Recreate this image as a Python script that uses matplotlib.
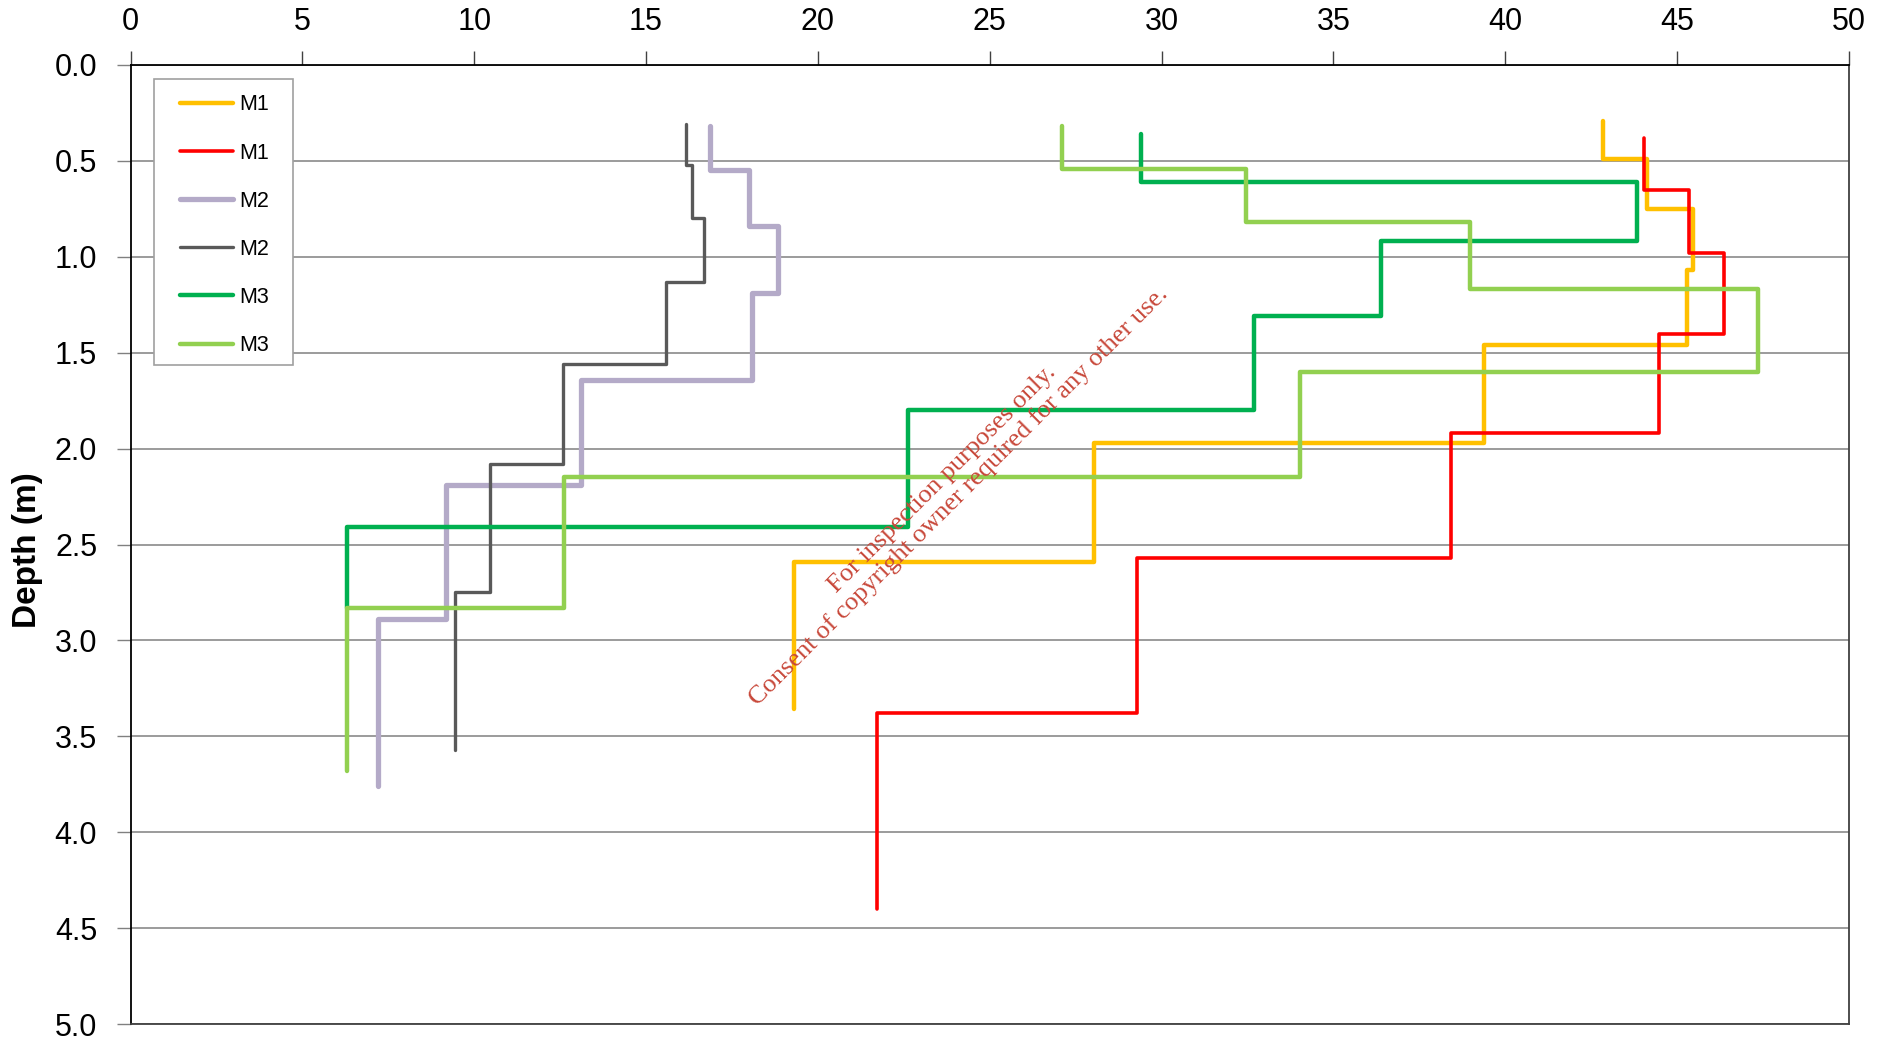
import numpy as np
import matplotlib
matplotlib.use("Agg")
import matplotlib.pyplot as plt
from matplotlib.patches import Rectangle

# ---- data: step profiles (layer boundaries in depth, value per layer) ----
m1a_depth = [0.29, 0.49, 0.75, 1.07, 1.46, 1.97, 2.59, 3.36]
m1a_vals = [42.83, 44.12, 45.45, 45.28, 39.38, 28.04, 19.30]

m1b_depth = [0.38, 0.65, 0.98, 1.40, 1.92, 2.57, 3.38, 4.40]
m1b_vals = [44.04, 45.35, 46.36, 44.48, 38.43, 29.29, 21.73]

m2a_depth = [0.32, 0.55, 0.84, 1.19, 1.64, 2.19, 2.89, 3.76]
m2a_vals = [16.87, 18.00, 18.85, 18.09, 13.11, 9.17, 7.20]

m2b_depth = [0.31, 0.52, 0.80, 1.13, 1.56, 2.08, 2.75, 3.57]
m2b_vals = [16.15, 16.33, 16.69, 15.57, 12.59, 10.47, 9.45]

m3a_depth = [0.36, 0.61, 0.92, 1.31, 1.80, 2.41, 2.83]
m3a_vals = [29.41, 43.84, 36.39, 32.70, 22.61, 6.29]

m3b_depth = [0.32, 0.54, 0.82, 1.17, 1.60, 2.15, 2.83, 3.68]
m3b_vals = [27.11, 32.45, 38.96, 47.36, 34.04, 12.62, 6.29]

labels = ["M1", "M1", "M2", "M2", "M3", "M3"]
x_ticks = [0, 5, 10, 15, 20, 25, 30, 35, 40, 45, 50]
y_ticks = [0.0, 0.5, 1.0, 1.5, 2.0, 2.5, 3.0, 3.5, 4.0, 4.5, 5.0]

series = [
    (m1a_depth, m1a_vals, "#FFC000", 3.2),
    (m1b_depth, m1b_vals, "#FF0000", 2.6),
    (m2a_depth, m2a_vals, "#B4AAC8", 3.8),
    (m2b_depth, m2b_vals, "#595959", 2.4),
    (m3a_depth, m3a_vals, "#00B050", 3.2),
    (m3b_depth, m3b_vals, "#92D050", 3.2),
]

plt.rcParams['font.family'] = ['Liberation Sans', 'DejaVu Sans']

W, H = 1895, 1044
fig = plt.figure(figsize=(W / 100, H / 100), dpi=100)
left, right, top, bottom = 130.5, 1849, 65, 1024
ax = fig.add_axes([left / W, 1 - bottom / H, (right - left) / W, (bottom - top) / H])

for (d, v, c, lw), lab in zip(series, labels):
    d = np.asarray(d)
    v = np.asarray(v)
    xs = np.repeat(v, 2)
    ys = np.repeat(d, 2)[1:-1]
    ax.plot(xs, ys, color=c, lw=lw, label=lab,
            solid_capstyle='round', solid_joinstyle='round')

ax.set_xlim(0, 50)
ax.set_ylim(5, 0)
ax.xaxis.tick_top()
ax.set_xticks(x_ticks)
ax.set_yticks(y_ticks)
ax.set_yticklabels([f"{t:.1f}" for t in y_ticks])
ax.tick_params(axis='x', direction='out', length=10, width=1, color='#404040',
               labelsize=22, pad=10)
ax.tick_params(axis='y', direction='out', length=10, width=1, color='#808080',
               labelsize=22, pad=14)
ax.grid(axis='y', color='#808080', lw=1.1)
ax.grid(axis='x', visible=False)
ax.set_axisbelow(True)

for s in ['top', 'left']:
    ax.spines[s].set_color('black')
    ax.spines[s].set_linewidth(1.3)
for s in ['right', 'bottom']:
    ax.spines[s].set_color('#404040')
    ax.spines[s].set_linewidth(1.3)

fig.text(28 / W, 1 - 550 / H, "Depth (m)", rotation=90, ha='center', va='center',
         fontsize=24, fontweight='bold')

# legend frame and legend
def ax_x(px):
    return (px - left) / (right - left)

def ax_y(py):
    return (bottom - py) / (bottom - top)

ax.add_patch(Rectangle((ax_x(154), ax_y(365)), ax_x(293) - ax_x(154),
                       ax_y(79) - ax_y(365), transform=ax.transAxes,
                       facecolor='white', edgecolor='#A0A0A0', lw=1.2, zorder=5))
leg = ax.legend(loc='upper left', bbox_to_anchor=(ax_x(180), ax_y(94.5)),
                frameon=False, fontsize=15.5, handlelength=2.45, handletextpad=0.28,
                labelspacing=1.26, borderaxespad=0, borderpad=0)
leg.set_zorder(6)

fig.text(951 / W, 1 - 488 / H,
         "For inspection purposes only.\nConsent of copyright owner required for any other use.",
         rotation=45, ha='center', va='center', multialignment='center',
         rotation_mode='anchor', fontsize=19, color='#C8483A',
         family=['Liberation Serif', 'DejaVu Serif'], linespacing=1.05, zorder=10)

fig.savefig("out.png", dpi=100)
